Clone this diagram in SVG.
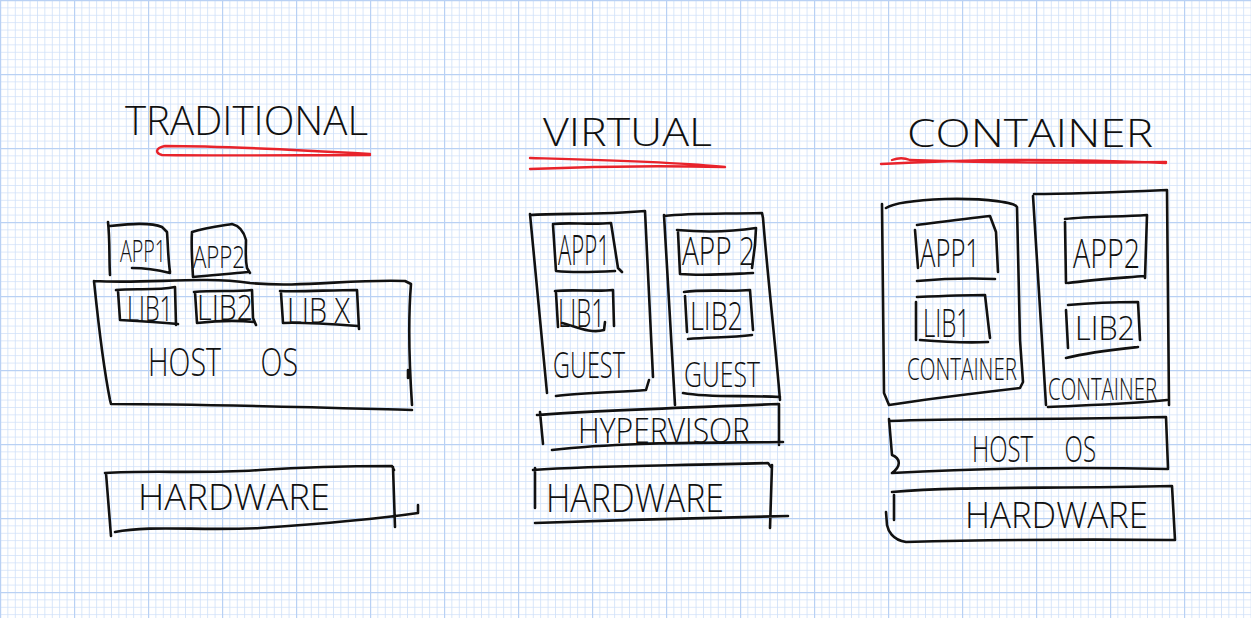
<svg xmlns="http://www.w3.org/2000/svg" width="1251" height="618" viewBox="0 0 1251 618">
<defs>
<pattern id="minor" patternUnits="userSpaceOnUse" width="7.4" height="7.4">
<path d="M0,0 H7.4 M0,0 V7.4" stroke="#cfe0f9" stroke-width="1.6" fill="none"/>
</pattern>
<pattern id="major" patternUnits="userSpaceOnUse" width="74" height="74">
<path d="M0,0 H74 M0,0 V74" stroke="#b9d1f4" stroke-width="2.4" fill="none"/>
</pattern>
<style>
.s{fill:none;stroke:#111;stroke-width:2.6;stroke-linecap:round;stroke-linejoin:round}
.r{fill:none;stroke:#e8232b;stroke-width:2.4;stroke-linecap:round}
.t{font-family:"Open Sans","Liberation Sans",Arial,sans-serif;font-weight:300;fill:#111}
</style>
</defs>
<rect width="1251" height="618" fill="#ffffff"/>
<rect width="1251" height="618" fill="url(#minor)"/>
<rect width="1251" height="618" fill="url(#major)"/>

<g id="title-traditional">
<text class="t" x="125" y="135" font-size="41" textLength="243" lengthAdjust="spacingAndGlyphs">TRADITIONAL</text>
<path class="r" d="M370,154 C300,150 220,146 165,146 C155,148 155,153 162,155 C230,156 300,155 370,155"/>
</g>
<g id="title-virtual">
<text class="t" x="543" y="146" font-size="39" textLength="169" lengthAdjust="spacingAndGlyphs">VIRTUAL</text>
<path class="r" d="M530,158 C600,160 680,162 725,167 M530,169 C600,166 680,166 724,167"/>
</g>
<g id="title-container">
<text class="t" x="907" y="147" font-size="38" textLength="246" lengthAdjust="spacingAndGlyphs">CONTAINER</text>
<path class="r" d="M881,164 C950,160 1050,158 1166,163 M892,160 C900,157 905,158 910,160 C990,163 1080,163 1166,162"/>
</g>

<g id="trad-app1">
<path class="s" d="M108,222 C110,240 109,258 110,275 M110,226 C130,224 150,222 162,227 L167,232 C168,245 168,258 170,272 M132,268 C145,268 158,270 170,273"/>
<text class="t" x="120" y="262" font-size="32" textLength="46" lengthAdjust="spacingAndGlyphs">APP1</text>
</g>
<g id="trad-app2">
<path class="s" d="M192,232 C205,228 220,226 232,224 C240,226 244,232 246,240 C246,250 245,258 247,268 L250,273 M192,232 C191,245 192,258 193,277 C210,275 230,274 248,272"/>
<text class="t" x="193" y="268" font-size="32" textLength="52" lengthAdjust="spacingAndGlyphs">APP2</text>
</g>
<g id="trad-hostos">
<path class="s" d="M94,281 C150,284 200,276 250,283 C300,288 350,279 405,281 L411,284 C408,320 409,360 412,405 M94,281 C98,320 102,360 110,400 L111,404 C200,404 300,407 412,410 M408,370 L408,378"/>
<text class="t" x="148" y="376" font-size="39" word-spacing="44" textLength="150" lengthAdjust="spacingAndGlyphs">HOST OS</text>
</g>
<g id="trad-lib1">
<path class="s" d="M116,290 C135,288 155,291 175,287 L176,325 M118,291 L120,320 C140,321 158,322 178,324"/>
<text class="t" x="127" y="321" font-size="34" textLength="46" lengthAdjust="spacingAndGlyphs">LIB1</text>
</g>
<g id="trad-lib2">
<path class="s" d="M194,292 C215,290 235,292 252,290 L253,318 L256,325 M195,292 L197,323 C215,321 235,320 254,322"/>
<text class="t" x="197" y="320" font-size="34" textLength="56" lengthAdjust="spacingAndGlyphs">LIB2</text>
</g>
<g id="trad-libx">
<path class="s" d="M280,291 C300,292 330,290 357,290 L359,329 M281,293 L283,323 C300,322 330,324 358,326"/>
<text class="t" x="287" y="323" font-size="34" textLength="63" lengthAdjust="spacingAndGlyphs">LIB X</text>
</g>
<g id="trad-hardware">
<path class="s" d="M105,473 C150,470 200,474 260,470 C320,466 360,466 392,466 L394,470 M393,467 L395,527 M115,532 C150,525 200,531 260,528 C320,524 370,520 418,513 L418,505 M106,473 L111,536"/>
<text class="t" x="138" y="510" font-size="37" textLength="192" lengthAdjust="spacingAndGlyphs">HARDWARE</text>
</g>

<g id="virt-guest1">
<path class="s" d="M530,215 C560,213 600,215 645,211 L653,377 M530,214 L547,393 M556,396 C580,393 620,392 646,390 L649,380"/>
<text class="t" x="553" y="378" font-size="36" textLength="72" lengthAdjust="spacingAndGlyphs">GUEST</text>
</g>
<g id="virt-app1">
<path class="s" d="M553,224 C570,222 590,225 611,223 L618,268 L622,272 M553,225 L556,271 C575,273 595,272 615,271"/>
<text class="t" x="558" y="265" font-size="42" textLength="52" lengthAdjust="spacingAndGlyphs">APP1</text>
</g>
<g id="virt-lib1">
<path class="s" d="M555,291 C575,289 595,292 613,290 L614,326 M556,293 L558,327 M562,323 C575,326 590,334 604,330 L605,322"/>
<text class="t" x="558" y="327" font-size="38" textLength="47" lengthAdjust="spacingAndGlyphs">LIB1</text>
</g>
<g id="virt-guest2">
<path class="s" d="M664,216 C690,213 720,214 762,213 L763,218 C768,280 775,340 780,400 M664,215 L675,405 M683,393 C710,398 740,395 780,397"/>
<text class="t" x="684" y="387" font-size="34" textLength="76" lengthAdjust="spacingAndGlyphs">GUEST</text>
</g>
<g id="virt-app2">
<path class="s" d="M677,230 C700,232 730,232 756,228 L755,245 L752,268 M678,232 L680,274 C705,276 730,274 753,273"/>
<text class="t" x="682" y="265" font-size="39" textLength="73" lengthAdjust="spacingAndGlyphs">APP 2</text>
</g>
<g id="virt-lib2">
<path class="s" d="M684,292 C705,289 730,292 750,290 L753,330 M685,296 L687,332 M688,339 C710,337 730,338 752,335"/>
<text class="t" x="690" y="330" font-size="38" textLength="53" lengthAdjust="spacingAndGlyphs">LIB2</text>
</g>
<g id="virt-hypervisor">
<path class="s" d="M537,415 C600,410 680,408 779,404 L779,445 M540,412 L543,444 M552,450 C620,442 700,443 783,442"/>
<text class="t" x="578" y="443" font-size="35" textLength="172" lengthAdjust="spacingAndGlyphs">HYPERVISOR</text>
</g>
<g id="virt-hardware">
<path class="s" d="M533,470 C600,465 680,466 768,463 L771,467 M772,465 L770,528 M535,468 L535,508 M535,523 C620,520 700,518 788,516"/>
<text class="t" x="546" y="512" font-size="39" textLength="178" lengthAdjust="spacingAndGlyphs">HARDWARE</text>
</g>

<g id="cont-container1">
<path class="s" d="M882,204 L884,393 M886,208 C895,202 920,200 945,199 C990,198 1015,203 1017,207 L1020,340 L1023,382 L1020,388 M889,405 C920,400 960,395 1020,388 M884,393 L889,405"/>
<text class="t" x="907" y="380" font-size="31" textLength="110" lengthAdjust="spacingAndGlyphs">CONTAINER</text>
</g>
<g id="cont-app1">
<path class="s" d="M917,225 C940,222 970,218 990,216 L996,232 L998,272 M915,230 L918,268 M917,281 C940,279 970,278 995,279"/>
<text class="t" x="920" y="267" font-size="38" textLength="60" lengthAdjust="spacingAndGlyphs">APP1</text>
</g>
<g id="cont-lib1">
<path class="s" d="M917,297 C940,296 965,295 985,295 L989,330 L990,338 M916,302 L916,340 M920,340 C945,342 965,343 988,342"/>
<text class="t" x="923" y="337" font-size="38" textLength="47" lengthAdjust="spacingAndGlyphs">LIB1</text>
</g>
<g id="cont-container2">
<path class="s" d="M1034,194 C1070,194 1120,192 1167,190 L1169,405 M1033,196 L1046,405 M1048,407 C1090,405 1130,404 1167,400"/>
<text class="t" x="1048" y="400" font-size="31" textLength="109" lengthAdjust="spacingAndGlyphs">CONTAINER</text>
</g>
<g id="cont-app2">
<path class="s" d="M1065,219 C1090,216 1120,217 1147,215 L1145,278 M1065,222 L1066,283 M1068,283 C1090,280 1120,278 1144,276"/>
<text class="t" x="1073" y="268" font-size="41" textLength="67" lengthAdjust="spacingAndGlyphs">APP2</text>
</g>
<g id="cont-lib2">
<path class="s" d="M1068,305 C1090,303 1110,302 1138,302 L1140,340 M1066,310 L1068,348 M1066,358 C1090,352 1110,350 1138,347"/>
<text class="t" x="1075" y="340" font-size="33" textLength="60" lengthAdjust="spacingAndGlyphs">LIB2</text>
</g>
<g id="cont-hostos">
<path class="s" d="M889,421 C960,418 1050,420 1166,417 L1168,468 M889,419 L892,455 C900,458 902,466 892,473 C980,468 1080,467 1168,469"/>
<text class="t" x="972" y="462" font-size="37" word-spacing="39" textLength="124" lengthAdjust="spacingAndGlyphs">HOST OS</text>
</g>
<g id="cont-hardware">
<path class="s" d="M892,492 C960,486 1050,489 1172,486 L1175,540 M894,495 L894,520 M886,512 L887,525 C888,530 892,540 906,542 C980,540 1060,539 1174,540"/>
<text class="t" x="965" y="528" font-size="37" textLength="183" lengthAdjust="spacingAndGlyphs">HARDWARE</text>
</g>

<g id="connectors"></g>
</svg>
